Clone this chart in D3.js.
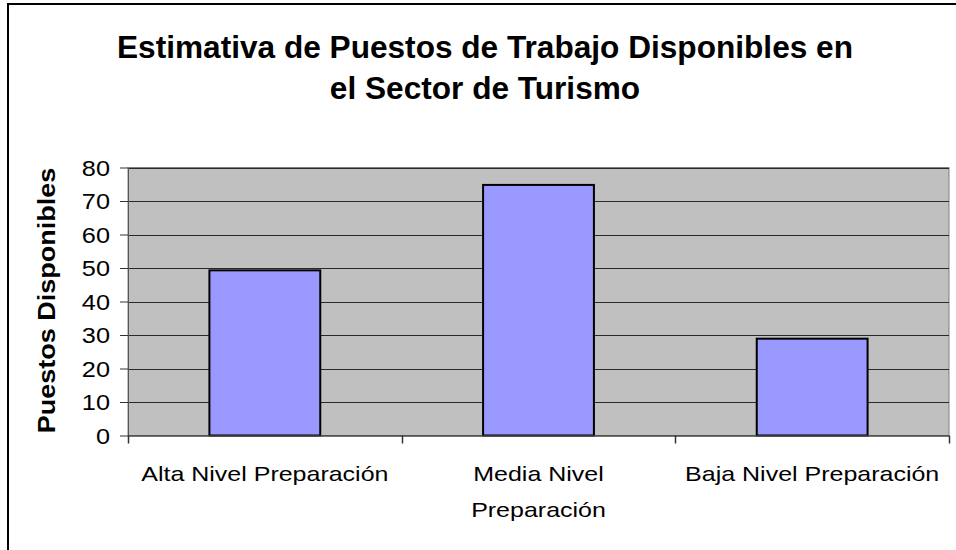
<!DOCTYPE html>
<html>
<head>
<meta charset="utf-8">
<script src="https://cdn.jsdelivr.net/npm/d3@7"></script>
<style>
  body { margin: 0; background: #fff; }
  text { font-family: "Liberation Sans", Arial, sans-serif; fill: #000; }
</style>
</head>
<body>
<svg id="chart" width="956" height="550"></svg>
<script>
// chart data
const categories = ["Alta Nivel Preparación", "Media Nivel Preparación", "Baja Nivel Preparación"];
const categoryLines = [["Alta Nivel Preparación"], ["Media Nivel", "Preparación"], ["Baja Nivel Preparación"]];
const values = [49.3, 74.8, 28.9];
const yTicks = [0, 10, 20, 30, 40, 50, 60, 70, 80];
const titleLines = ["Estimativa de Puestos de Trabajo Disponibles en", "el Sector de Turismo"];
const yTitle = "Puestos Disponibles";

const svg = d3.select("#chart");

const plot = { left: 128, right: 949, top: 167.5, bottom: 435.5 };

// outer frame (runs off the right and bottom)
svg.append("rect")
    .attr("x", 8).attr("y", 4)
    .attr("width", 980).attr("height", 580)
    .attr("fill", "none").attr("stroke", "#000").attr("stroke-width", 2);

const x = d3.scaleBand()
    .domain(categories)
    .range([plot.left, plot.right])
    .paddingInner(0.595).paddingOuter(0.2975);

const band = d3.scaleBand().domain(categories).range([plot.left, plot.right]);

const y = d3.scaleLinear().domain([0, 80]).range([plot.bottom, plot.top]);

// plot background
svg.append("rect")
    .attr("x", plot.left).attr("y", plot.top)
    .attr("width", plot.right - plot.left).attr("height", plot.bottom - plot.top)
    .attr("fill", "#c0c0c0").attr("stroke", "#808080").attr("stroke-width", 1);

// gridlines
svg.append("g").selectAll("line")
    .data(yTicks.filter(d => d > 0))
    .join("line")
    .attr("x1", plot.left).attr("x2", plot.right)
    .attr("y1", d => Math.round(y(d)) + 0.5).attr("y2", d => Math.round(y(d)) + 0.5)
    .attr("stroke", "#2a2a2a").attr("stroke-width", 1);

// bars
svg.append("g").selectAll("rect")
    .data(values)
    .join("rect")
    .attr("x", (d, i) => x(categories[i]))
    .attr("y", d => y(d))
    .attr("width", x.bandwidth())
    .attr("height", d => y(0) - y(d))
    .attr("fill", "#9999ff")
    .attr("stroke", "#000").attr("stroke-width", 2);

// y axis
const yAxis = svg.append("g")
    .attr("transform", `translate(${plot.left},0)`)
    .call(d3.axisLeft(y).tickValues(yTicks).tickSize(8).tickSizeOuter(0).tickFormat(d3.format("d")));
yAxis.select(".domain").attr("stroke", "#555");
yAxis.selectAll(".tick line").attr("stroke", "#333");
yAxis.selectAll(".tick text")
    .attr("x", 0).attr("dy", "0.36em")
    .attr("font-size", 22)
    .attr("font-family", "Liberation Sans, Arial, sans-serif")
    .attr("fill", "#000")
    .attr("text-anchor", "end")
    .attr("transform", "translate(-18,0) scale(1.15,1)");

// x axis line and ticks at the band edges
svg.append("line")
    .attr("x1", plot.left).attr("x2", plot.right)
    .attr("y1", plot.bottom + 0.5).attr("y2", plot.bottom + 0.5)
    .attr("stroke", "#444").attr("stroke-width", 1.5);

const edges = categories.map(c => band(c)).concat([plot.right]);
svg.append("g").selectAll("line")
    .data(edges)
    .join("line")
    .attr("x1", d => Math.round(d) + 0.5).attr("x2", d => Math.round(d) + 0.5)
    .attr("y1", plot.bottom).attr("y2", plot.bottom + 8)
    .attr("stroke", "#333").attr("stroke-width", 1.5);

// category labels
const catG = svg.append("g").selectAll("g")
    .data(categoryLines)
    .join("g")
    .attr("transform", (d, i) => `translate(${band(categories[i]) + band.bandwidth() / 2},481) scale(1.19,1)`);
catG.selectAll("text")
    .data(d => d)
    .join("text")
    .attr("y", (d, j) => j * 36)
    .attr("text-anchor", "middle")
    .attr("font-size", 21)
    .text(d => d);

// title
svg.append("g").selectAll("text")
    .data(titleLines)
    .join("text")
    .attr("transform", (d, i) => `translate(485,${58 + i * 41}) scale(1.02,1)`)
    .attr("text-anchor", "middle")
    .attr("font-size", 31)
    .attr("font-weight", "bold")
    .text(d => d);

// y axis title
svg.append("text")
    .attr("transform", `translate(55,${(plot.top + plot.bottom) / 2 - 1}) scale(0.92,1) rotate(-90)`)
    .attr("text-anchor", "middle")
    .attr("font-size", 27)
    .attr("font-weight", "bold")
    .text(yTitle);
</script>
</body>
</html>
